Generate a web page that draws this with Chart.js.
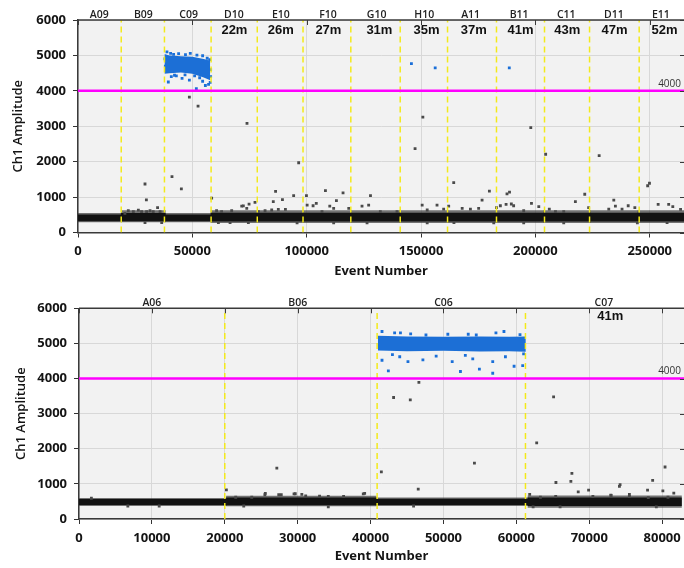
<!DOCTYPE html>
<html>
<head>
<meta charset="utf-8">
<title>Ch1 Amplitude vs Event Number</title>
<script src="https://cdn.jsdelivr.net/npm/chart.js@4.4.1/dist/chart.umd.min.js"></script>
<style>
  html, body { margin: 0; padding: 0; background: #fff; }
  #wrap { position: relative; width: 684px; height: 568px; }
  canvas { position: absolute; left: 0; display: block; }
  #run-a { top: 0; }
  #run-b { top: 285px; }
</style>
</head>
<body>
<div id="wrap">
  <canvas id="run-a" width="684" height="285"></canvas>
  <canvas id="run-b" width="684" height="283"></canvas>
</div>
<script>
// ---------- run A : wells A09 .. E11 ----------
const wellEdgesA = [0, 18900, 37800, 58200, 78400, 98400, 119300, 140900, 161600, 183000, 204000, 223700, 245400, 265000];
const wellNamesA = ['A09', 'B09', 'C09', 'D10', 'E10', 'F10', 'G10', 'H10', 'A11', 'B11', 'C11', 'D11', 'E11'];
const wellLabelXA = [9300, 28600, 48400, 68200, 88700, 109300, 130600, 151400, 171700, 192900, 213500, 234300, 254900];
const timeLabelsA = ['', '', '', '22m', '26m', '27m', '31m', '35m', '37m', '41m', '43m', '47m', '52m'];
const timeLabelXA = [9300, 28600, 48400, 68400, 88700, 109500, 131800, 152400, 173100, 193500, 214000, 234600, 256500];
const xTicksA = [0, 50000, 100000, 150000, 200000, 250000];

// negative droplet band per well (dense core / loose edge)
const bandLowA  = [330, 330, 330, 320, 320, 320, 320, 320, 320, 320, 320, 320, 320];
const bandHighA = [500, 540, 500, 550, 550, 550, 550, 550, 550, 550, 550, 550, 550];
const hazeLowA  = [300, 300, 300, 280, 280, 280, 280, 280, 280, 280, 280, 280, 280];
const hazeHighA = [540, 620, 540, 620, 620, 620, 620, 620, 620, 620, 620, 620, 620];

// positive cluster envelope in C09
const clusterXA    = [37800, 40000, 45000, 50000, 55000, 57800];
const clusterHighA = [5040, 5000, 4980, 4960, 4900, 4850];
const clusterLowA  = [4480, 4500, 4520, 4480, 4380, 4300];

const positiveXA = [145800, 156200, 188600,
  38900, 40500, 41800, 44000, 47000, 49100, 52000, 54500, 56500, 57600,
  39500, 40800, 42200, 43000, 45500, 46800, 48700, 51000, 51750, 53200, 54500, 55700, 57100, 57800,
  38200, 38000, 58000, 58000];
const positiveYA = [4770, 4650, 4650,
  5100, 5060, 5030, 5050, 5020, 5060, 5010, 4990, 4920, 4880,
  4250, 4400, 4440, 4420, 4350, 4450, 4300, 4420, 4060, 4370, 4270, 4150, 4180, 4240,
  4700, 4900, 4600, 4400];

const scatterXA = [48700, 52500, 73900, 150800, 198000, 147400, 204500, 227900, 96500, 41100,
  164300, 29300, 249100, 249900, 45200, 108200, 86400, 179900, 188700, 187600,
  115900, 221600, 94300, 99900, 127900, 29900, 58450,
  89400, 85400, 74800, 77400, 72300, 73800, 22000, 24200, 26400, 27800, 30000, 31500, 32900,
  34800, 35900, 20500, 60600, 62800, 67200, 71600, 78900, 81800, 84700, 87600, 100200,
  102800, 104200, 110100, 113000, 111800, 118400, 124200, 127100, 150500, 157000, 159900,
  162100, 168000, 171600, 176700, 175200, 90700, 106700, 132200, 139500, 152700, 183000,
  184700, 187200, 189500, 190500, 198300, 201500, 206100, 208800, 217500, 223300, 234300,
  235000, 240600, 243500, 253700, 258300, 260100, 263500, 232100, 237900, 194900, 212400,
  29300, 36600, 61400, 66500, 74500, 95800, 111800, 126400, 152700, 164400, 181800, 194900,
  212400, 244600, 257600];
const scatterYA = [3820, 3570, 3080, 3260, 2960, 2370, 2210, 2170, 1970, 1580,
  1410, 1370, 1320, 1390, 1230, 1180, 1160, 1170, 1140, 1090,
  1120, 1080, 1040, 1040, 1040, 920, 970,
  930, 870, 800, 850, 750, 680, 615, 590, 630, 590, 590, 615, 590,
  700, 590, 540, 615, 590, 615, 745, 590, 615, 635, 655, 775,
  755, 820, 745, 900, 680, 680, 745, 775, 775, 775, 660,
  745, 680, 660, 915, 680, 655, 590, 590, 590, 635, 700,
  755, 795, 805, 755, 820, 730, 660, 590, 870, 700, 915,
  745, 755, 700, 795, 795, 730, 655, 660, 660, 615, 590,
  280, 280, 280, 280, 280, 275, 275, 275, 275, 280, 275, 275,
  275, 275, 280];

// ---------- run B : wells A06 .. C07 ----------
const wellEdgesB = [0, 20000, 40900, 61250, 83000];
const wellNamesB = ['A06', 'B06', 'C06', 'C07'];
const wellLabelXB = [10000, 30000, 50000, 72000];
const timeLabelsB = ['', '', '', '41m'];
const timeLabelXB = [10000, 30000, 50000, 72900];
const xTicksB = [0, 10000, 20000, 30000, 40000, 50000, 60000, 70000, 80000];

const bandLowB  = [410, 400, 410, 380];
const bandHighB = [560, 600, 570, 600];
const hazeLowB  = [380, 370, 380, 330];
const hazeHighB = [590, 650, 600, 660];

const clusterXB    = [41000, 45000, 50000, 55000, 59000, 61300];
const clusterHighB = [5220, 5200, 5190, 5200, 5190, 5200];
const clusterLowB  = [4800, 4780, 4790, 4770, 4780, 4760];

const positiveXB = [41570, 43300, 44100, 47600, 50600, 53400, 54500, 57200, 58300, 45500, 60500,
  41570, 42440, 45130, 47180, 51200, 52330, 54020, 54930, 56760, 56760, 59690, 60870,
  44000, 49000, 58500, 61000, 43000, 53000];
const positiveYB = [5340, 5300, 5300, 5240, 5260, 5260, 5240, 5300, 5340, 5270, 5250,
  4520, 4220, 4480, 4530, 4480, 4200, 4560, 4270, 4150, 4480, 4350, 4370,
  4620, 4640, 4620, 4700, 4680, 4660];

const scatterXB = [46630, 43160, 45450, 65110, 62790, 54250, 27140, 80400, 41480, 67620,
  78700, 67480, 65430, 74230, 74140, 46540, 20220, 69910, 78000, 80100, 81600, 68490,
  25560, 27750, 29670, 30570, 61830, 39190, 72960, 75510,
  25500, 27400, 29500, 31100, 33000, 34200, 36300, 39000, 23700, 21500, 1700, 65400,
  73000, 75500, 78100, 80800, 63300, 70500,
  6700, 11000, 22600, 34200, 45900, 62300, 66000, 79200];
const scatterYB = [3890, 3460, 3390, 3480, 2170, 1590, 1450, 1480, 1340, 1300,
  1100, 1070, 1040, 980, 930, 850, 830, 820, 820, 800, 735, 770,
  730, 690, 720, 700, 700, 730, 680, 700,
  690, 690, 715, 660, 650, 640, 640, 715, 620, 620, 590, 640,
  670, 640, 610, 620, 620, 640,
  370, 370, 370, 345, 370, 345, 345, 345];

const threshold = 4000;
const yMax = 6000;

const tickFont = { family: 'Open Sans', size: 13, weight: 'bold' };
const inkColor = '#141414';

function zip(xs, ys) {
  return xs.map((x, i) => ({ x: x, y: ys[i] }));
}

function wellBars(edges, lows, highs) {
  return lows.map((lo, i) => ({ x: (edges[i] + edges[i + 1]) / 2, y: [lo, highs[i]] }));
}

function boundaryPoints(edges) {
  const pts = [];
  edges.slice(1, -1).forEach(e => {
    pts.push({ x: e, y: 0 }, { x: e, y: yMax }, { x: e, y: null });
  });
  return pts;
}

// frame, well names, elapsed time and threshold label
function plateDecor(run) {
  return {
    id: 'plateDecor',
    beforeDraw(chart) {
      const { ctx, chartArea: a } = chart;
      ctx.save();
      ctx.fillStyle = '#f2f2f2';
      ctx.fillRect(a.left, a.top, a.right - a.left, a.bottom - a.top);
      ctx.restore();
    },
    afterDraw(chart) {
      const { ctx, chartArea: a } = chart;
      const x = chart.scales.x, y = chart.scales.y;
      ctx.save();
      ctx.strokeStyle = '#3a3a3a';
      ctx.lineWidth = 1.5;
      ctx.beginPath();
      ctx.moveTo(a.left, a.top);
      ctx.lineTo(a.right, a.top);
      ctx.stroke();
      ctx.lineWidth = 1;
      x.ticks.forEach(t => {
        const px = Math.round(x.getPixelForValue(t.value)) + 0.5;
        ctx.beginPath();
        ctx.moveTo(px, a.top);
        ctx.lineTo(px, a.top + 5);
        ctx.stroke();
      });
      y.ticks.forEach(t => {
        const py = Math.round(y.getPixelForValue(t.value)) + 0.5;
        ctx.beginPath();
        ctx.moveTo(a.right, py);
        ctx.lineTo(a.right - 4, py);
        ctx.stroke();
      });

      ctx.fillStyle = '#222';
      ctx.textAlign = 'center';
      ctx.textBaseline = 'middle';
      ctx.font = '600 10.5px "Open Sans"';
      run.names.forEach((n, i) => ctx.fillText(n, x.getPixelForValue(run.nameX[i]), run.nameY));

      ctx.fillStyle = '#111';
      ctx.font = 'bold 13px "Liberation Sans"';
      run.times.forEach((t, i) => {
        if (t) ctx.fillText(t, x.getPixelForValue(run.timeX[i]), run.timeY);
      });

      ctx.fillStyle = '#333';
      ctx.font = '10px "Open Sans"';
      ctx.textAlign = 'right';
      ctx.fillText(String(threshold), a.right - 3, y.getPixelForValue(threshold) - 7);
      ctx.restore();
    }
  };
}

function drawRun(canvasId, run) {
  const canvas = document.getElementById(canvasId);
  const datasets = [
    {
      type: 'line', data: [{ x: 0, y: threshold }, { x: run.xMax, y: threshold }],
      borderColor: '#ff00ff', borderWidth: 2.5, pointRadius: 0, order: 0
    },
    {
      type: 'line', data: boundaryPoints(run.edges),
      borderColor: '#f3ea1a', borderWidth: 1.5, borderDash: [6, 4], pointRadius: 0, spanGaps: false, order: 1
    },
    {
      type: 'scatter', data: zip(run.posX, run.posY),
      backgroundColor: '#1a6fd8', borderWidth: 0, pointStyle: 'rect', pointRadius: 2, order: 2
    },
    {
      type: 'line', data: zip(run.clusterX, run.clusterHigh),
      borderColor: 'rgba(0,0,0,0)', borderWidth: 0, pointRadius: 0, fill: false, order: 3
    },
    {
      type: 'line', data: zip(run.clusterX, run.clusterLow),
      borderColor: 'rgba(0,0,0,0)', borderWidth: 0, pointRadius: 0,
      fill: '-1', backgroundColor: '#1c6fd6', order: 3
    },
    {
      type: 'scatter', data: zip(run.negX, run.negY),
      backgroundColor: '#4a4a4a', borderWidth: 0, pointStyle: 'rect', pointRadius: 2, order: 4
    },
    // both band layers share one stack so each bar spans the whole well
    {
      type: 'bar', data: wellBars(run.edges, run.bandLow, run.bandHigh), stack: 'band',
      backgroundColor: '#121212', borderWidth: 0,
      barThickness: 'flex', categoryPercentage: 1, barPercentage: 1, order: 5
    },
    {
      type: 'bar', data: wellBars(run.edges, run.hazeLow, run.hazeHigh), stack: 'band',
      backgroundColor: 'rgba(60,60,60,0.7)', borderWidth: 0,
      barThickness: 'flex', categoryPercentage: 1, barPercentage: 1, order: 6
    }
  ];

  return new Chart(canvas, {
    type: 'scatter',
    data: { datasets: datasets },
    options: {
      responsive: false,
      animation: false,
      events: [],
      layout: { autoPadding: false, padding: { top: run.plotTop, left: 0, right: 0, bottom: 0 } },
      plugins: { legend: { display: false }, tooltip: { enabled: false } },
      scales: {
        x: {
          type: 'linear', min: 0, max: run.xMax, offset: false,
          afterBuildTicks: s => { s.ticks = run.xTicks.map(v => ({ value: v })); },
          ticks: { padding: 6, font: tickFont, color: inkColor, maxRotation: 0, callback: v => String(v) },
          grid: { color: '#d8d8d8', tickColor: '#333', tickLength: 5, offset: false },
          border: { color: '#3a3a3a', width: 1.5 },
          title: {
            display: true, text: 'Event Number', color: inkColor,
            font: { family: 'Open Sans', size: 13, weight: 'bold' },
            padding: { top: 0, bottom: run.xTitlePad }
          },
          afterFit: s => {
            s.height = canvas.height - run.plotBottom;
            s.paddingLeft = 0;
            s.paddingRight = 0;
          }
        },
        y: {
          type: 'linear', min: 0, max: yMax, stacked: false,
          ticks: { stepSize: 1000, padding: 7, font: tickFont, color: inkColor, callback: v => String(v) },
          grid: { color: '#d8d8d8', tickColor: '#333', tickLength: 5 },
          border: { color: '#3a3a3a', width: 1.5 },
          title: {
            display: true, text: 'Ch1 Amplitude', color: inkColor,
            font: { family: 'Open Sans', size: 13, weight: '600' },
            padding: { top: run.yTitlePad, bottom: 0 }
          },
          afterFit: s => { s.width = run.plotLeft; }
        }
      }
    },
    plugins: [plateDecor(run)]
  });
}

drawRun('run-a', {
  edges: wellEdgesA, names: wellNamesA, nameX: wellLabelXA, times: timeLabelsA, timeX: timeLabelXA,
  bandLow: bandLowA, bandHigh: bandHighA, hazeLow: hazeLowA, hazeHigh: hazeHighA,
  clusterX: clusterXA, clusterHigh: clusterHighA, clusterLow: clusterLowA,
  posX: positiveXA, posY: positiveYA, negX: scatterXA, negY: scatterYA,
  xMax: 265000, xTicks: xTicksA,
  plotLeft: 78, plotTop: 20, plotBottom: 232.5,
  nameY: 15.5, timeY: 30, xTitlePad: 5.5, yTitlePad: 10.5
});

drawRun('run-b', {
  edges: wellEdgesB, names: wellNamesB, nameX: wellLabelXB, times: timeLabelsB, timeX: timeLabelXB,
  bandLow: bandLowB, bandHigh: bandHighB, hazeLow: hazeLowB, hazeHigh: hazeHighB,
  clusterX: clusterXB, clusterHigh: clusterHighB, clusterLow: clusterLowB,
  posX: positiveXB, posY: positiveYB, negX: scatterXB, negY: scatterYB,
  xMax: 83000, xTicks: xTicksB,
  plotLeft: 79, plotTop: 23.3, plotBottom: 234,
  nameY: 18, timeY: 31.7, xTitlePad: 3.5, yTitlePad: 13.5
});
</script>
</body>
</html>
